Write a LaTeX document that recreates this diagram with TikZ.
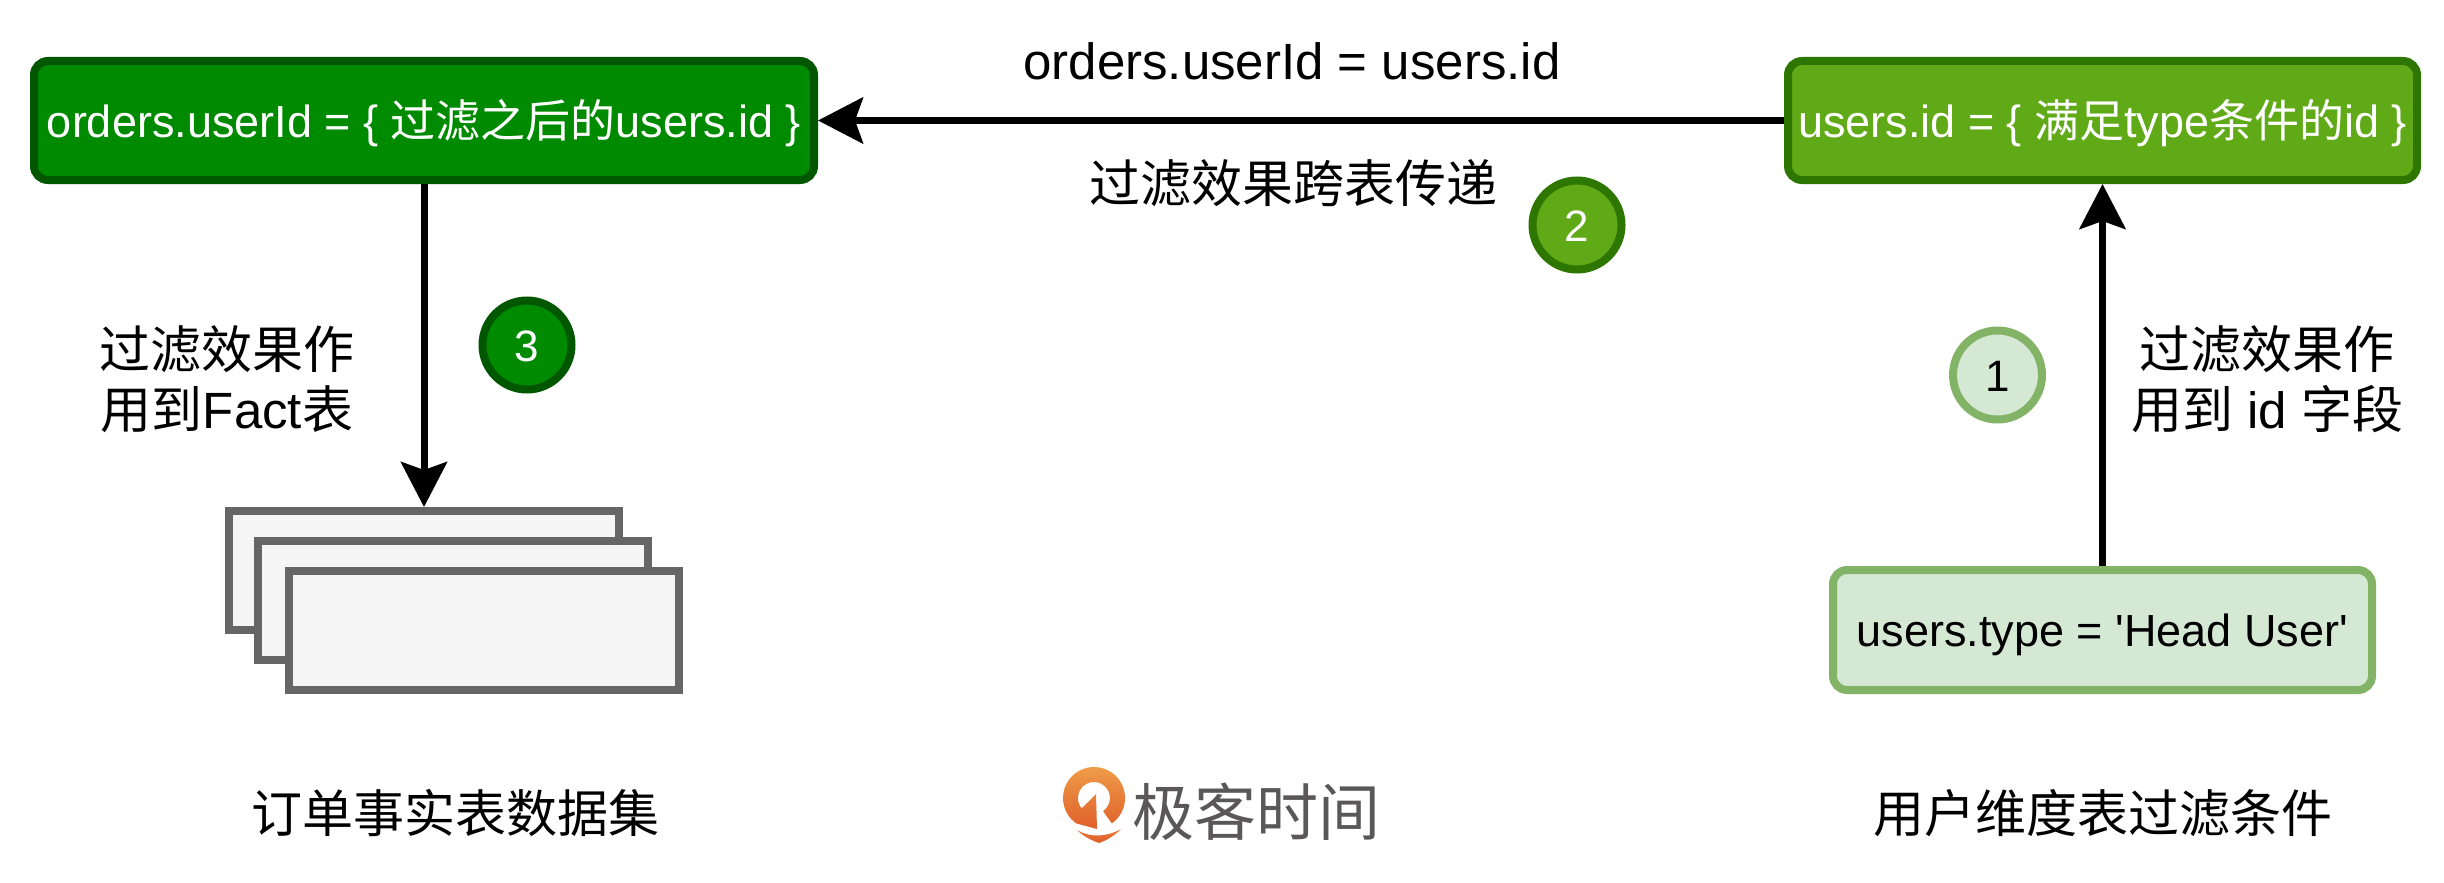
\documentclass[tikz,border=0pt]{standalone}
\usepackage{fontspec}
\setmainfont{Liberation Sans}
\newfontfamily\cjk{Noto Sans CJK SC}
\usetikzlibrary{arrows.meta}
\definecolor{factfill}{HTML}{008A00}
\definecolor{factline}{HTML}{005700}
\definecolor{idfill}{HTML}{60A917}
\definecolor{idline}{HTML}{2D7600}
\definecolor{typefill}{HTML}{D5E8D4}
\definecolor{typeline}{HTML}{82B366}
\definecolor{sheetfill}{HTML}{F5F5F5}
\definecolor{sheetline}{HTML}{666666}
\definecolor{logotop}{HTML}{F0A04B}
\definecolor{logobot}{HTML}{DF5F2A}
\definecolor{logotext}{HTML}{595757}

\begin{document}
\begin{tikzpicture}[x=1pt, y=-1pt,
    filterbox/.style={draw, rounded corners=14pt, line width=8pt, inner sep=0pt,
      minimum height=119pt, text height=40pt, text depth=7pt,
      font=\fontsize{45}{54}\selectfont},
    stepnum/.style={circle, draw, line width=8pt, minimum size=89pt, inner sep=0pt,
      text height=32pt, text depth=0pt, font=\fontsize{44}{52}\selectfont},
    sheet/.style={draw=sheetline, fill=sheetfill, line width=8pt, inner sep=0pt,
      minimum width=390pt, minimum height=119pt},
    flow/.style={line width=7pt, -{Stealth[length=45pt, width=46pt, inset=8pt]}},
    note/.style={inner sep=0pt, align=center, font=\fontsize{51}{60}\selectfont}]
  \useasboundingbox (0,0) rectangle (2444,883);

  % Fact table side
  \node[filterbox, draw=factline, fill=factfill, text=white, minimum width=780pt] (orders) at (424,120.5) {orders.userId = \{ {\cjk 过滤之后的}users.id \}};
  \node[sheet] (sheet1) at (424,570.5) {};
  \node[sheet] (sheet2) at (453,600) {};
  \node[sheet] (sheet3) at (483.5,630) {};
  \node[note, anchor=north] (factnote) at (227,325) {{\cjk 过滤效果作}\\{\cjk 用到}Fact{\cjk 表}};
  \node[stepnum, draw=factline, fill=factfill, text=white] (step3) at (527,345) {3};
  \node[note, anchor=base] (factname) at (455,832) {\cjk 订单事实表数据集};

  % Dimension table side
  \node[filterbox, draw=idline, fill=idfill, text=white, minimum width=629pt] (userid) at (2102.5,120.5) {users.id = \{ {\cjk 满足}type{\cjk 条件的}id \}};
  \node[filterbox, draw=typeline, fill=typefill, minimum width=539pt, minimum height=120pt] (usertype) at (2102.5,630) {users.type = \textquotesingle Head User\textquotesingle};
  \node[note, anchor=north] (idnote) at (2267,325) {{\cjk 过滤效果作}\\{\cjk 用到} id {\cjk 字段}};
  \node[stepnum, draw=typeline, fill=typefill] (step1) at (1997.5,375) {1};
  \node[note, anchor=base] (dimname) at (2102.5,832) {\cjk 用户维度表过滤条件};

  % Join between the two tables
  \node[stepnum, draw=idline, fill=idfill, text=white] (step2) at (1577,225) {2};
  \node[note, anchor=base] (joinkey) at (1292,80) {orders.userId = users.id};
  \node[note, anchor=base, font=\fontsize{51}{60}\selectfont\cjk] (joinnote) at (1293,202) {过滤效果跨表传递};

  \draw[flow] (usertype) -- (userid);
  \draw[flow] (userid) -- (orders);
  \draw[flow] (orders) -- (sheet1);

  % Logo
  \shade[top color=logotop, bottom color=logobot]
    (1111.8,823.4) arc[start angle=55, end angle=-235, radius=31]
    -- (1097,829) -- (1096,794) -- (1081.7,808.3)
    arc[start angle=140, end angle=415, radius=16] -- cycle;
  \shade[top color=logotop!40!logobot, bottom color=logobot]
    (1077,830) .. controls (1090,838) and (1107,837) .. (1121,829)
    .. controls (1113,837) and (1105,841) .. (1099,843)
    .. controls (1090,840) and (1082,835) .. (1077,830) -- cycle;
  \node[font=\fontsize{62}{72}\selectfont\cjk, text=logotext, anchor=base, inner sep=0pt] (logo) at (1256,835) {极客时间};
\end{tikzpicture}
\end{document}
